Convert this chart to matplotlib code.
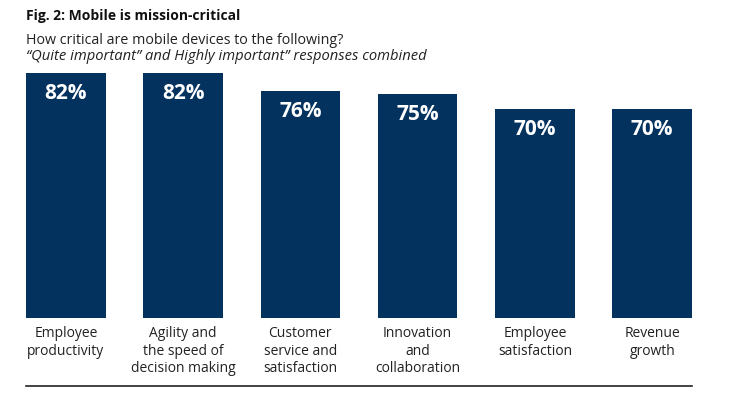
import numpy as np
import matplotlib.pyplot as plt
from matplotlib.lines import Line2D

plt.rcParams['font.family'] = ['Open Sans', 'DejaVu Sans']

categorias = ['Employee\nproductivity', 'Agility and\nthe speed of\ndecision making',
              'Customer\nservice and\nsatisfaction', 'Innovation\nand\ncollaboration',
              'Employee\nsatisfaction', 'Revenue\ngrowth']
valores = [82, 82, 76, 75, 70, 70]
rotulos = ['82%', '82%', '76%', '75%', '70%', '70%']

cor = '#04325f'

fig = plt.figure(figsize=(7.31, 3.98), dpi=100)
ax = fig.add_axes([26/731, 1 - 318/398, 666/731, 245/398])

x = np.arange(len(valores))
ax.bar(x, valores, width=0.68, color=cor)
for xi, v, r in zip(x, valores, rotulos):
    ax.text(xi, v - 6.8, r, ha='center', va='center', color='white',
            fontsize=15, fontweight='bold')

ax.set_xlim(-0.34, 5.34)
ax.set_ylim(0, 82)
ax.set_yticks([])
ax.set_xticks(x)
ax.set_xticklabels(categorias, fontsize=10, color='#222222', linespacing=1.22)
ax.tick_params(axis='x', length=0, pad=6)
for s in ax.spines.values():
    s.set_visible(False)

fig.text(26/731, 1 - 16/398, 'Fig. 2: Mobile is mission-critical', fontsize=10,
         fontweight='bold', va='center', color='#111111')
fig.text(26/731, 1 - 40/398, 'How critical are mobile devices to the following?',
         fontsize=10.3, va='center', color='#222222')
fig.text(26/731, 1 - 56/398, '\u201cQuite important\u201d and Highly important\u201d responses combined',
         fontsize=10.6, style='italic', va='center', color='#222222')

fig.add_artist(Line2D([26/731, 692/731], [1 - 386/398, 1 - 386/398], color='#222222', lw=1.2))

fig.savefig('out.png', dpi=100)
